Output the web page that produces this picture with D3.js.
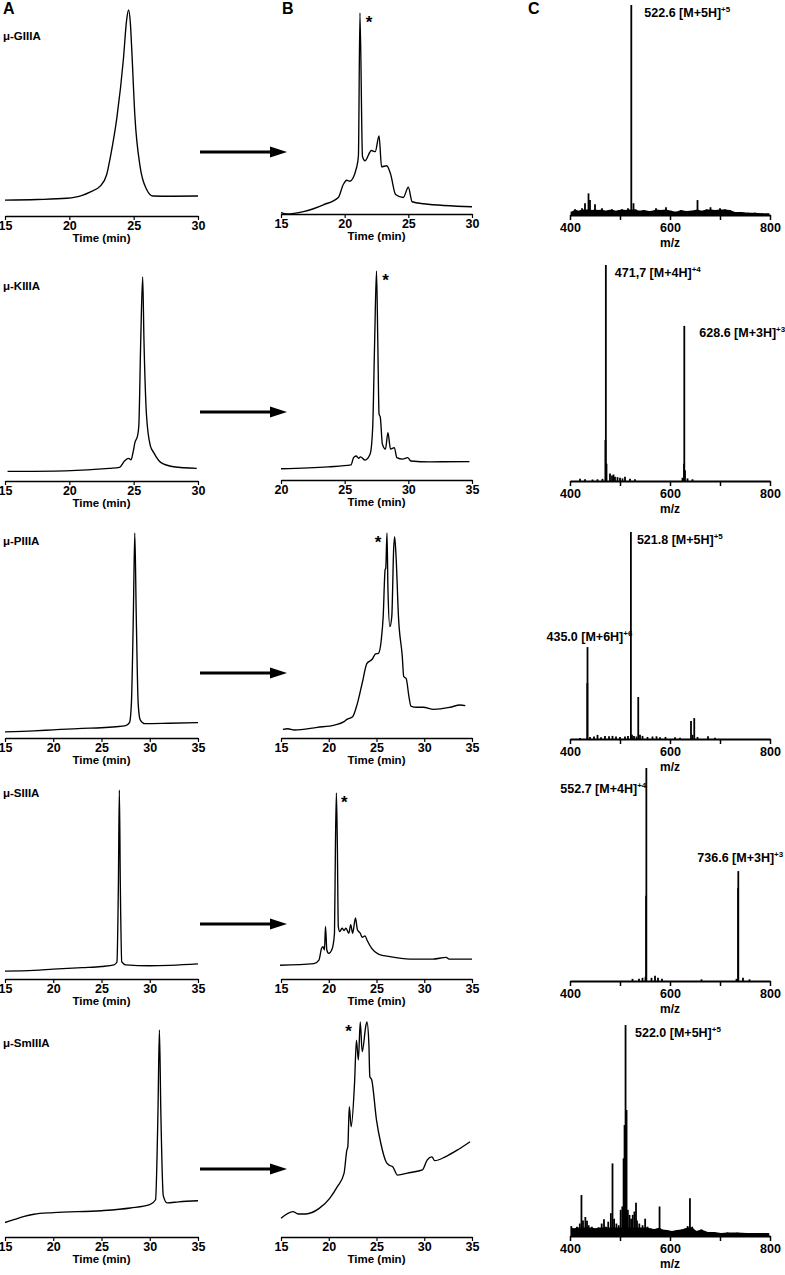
<!DOCTYPE html>
<html lang="en">
<head>
<meta charset="UTF-8">
<title>Oxidative folding of mu-conotoxins</title>
<script src="https://cdn.jsdelivr.net/npm/d3@7"></script>
<style>
  body { margin: 0; background: #fff; }
  svg { display: block; font-family: Arial, "Liberation Sans", sans-serif; }
  .axis text { font-weight: bold; font-size: 12.5px; fill: #000; }
  .axis path, .axis line { stroke: #000; }
</style>
</head>
<body>
<script>
// peptides, one per row
var peptides = ["μ-GIIIA", "μ-KIIIA", "μ-PIIIA", "μ-SIIIA", "μ-SmIIIA"];

// HPLC time windows and ticks (min)
var timeDomainA = [[15, 30], [15, 30], [15, 35], [15, 35], [15, 35]];
var timeDomainB = [[15, 30], [20, 35], [15, 35], [15, 35], [15, 35]];
var timeTicksA = [[15, 20, 25, 30], [15, 20, 25, 30], [15, 20, 25, 30, 35], [15, 20, 25, 30, 35], [15, 20, 25, 30, 35]];
var timeTicksB = [[15, 20, 25, 30], [20, 25, 30, 35], [15, 20, 25, 30, 35], [15, 20, 25, 30, 35], [15, 20, 25, 30, 35]];

// m/z axis
var mzDomain = [400, 800];
var mzTicks = [400, 500, 600, 700, 800];
var mzTickLabels = [400, 600, 800];

// A: purified peptides, [time, relative absorbance %]
var traceA_GIIIA = [[15.0, 7.7], [17.5, 8.0], [19.8, 8.6], [21.0, 10.0], [21.6, 11.6], [22.4, 14.5], [22.9, 20], [23.2, 29], [23.7, 48], [24.2, 76], [24.45, 95], [24.6, 100], [24.75, 93], [24.85, 81], [25.1, 48], [25.5, 24], [26.0, 13], [26.5, 9.7], [28.0, 9.6], [30.0, 9.7]];
var traceA_KIIIA = [[15.2, 4.7], [19.7, 5.0], [23.1, 6.2], [23.9, 6.7], [24.3, 9.9], [24.6, 11.1], [24.8, 10.4], [24.95, 14], [25.1, 18.9], [25.3, 22.1], [25.4, 27], [25.55, 69], [25.7, 100], [25.8, 69], [26.0, 32], [26.3, 17.2], [26.55, 14], [27.1, 9.1], [28.1, 7], [29.9, 6.2]];
var traceA_PIIIA = [[15, 3], [18, 3.5], [20, 4], [23, 4.7], [25, 5], [26.5, 5.5], [27.5, 6], [27.9, 7.5], [28.1, 17], [28.3, 60], [28.45, 100], [28.6, 60], [28.8, 17], [29.0, 9], [29.5, 7], [32, 7.2], [35, 7.5]];
var traceA_SIIIA = [[15, 4.2], [18, 4.6], [20, 5.2], [23, 6], [25, 6.6], [26.3, 7.5], [26.6, 9], [26.75, 50], [26.85, 100], [26.95, 50], [27.1, 9], [27.5, 7.5], [30, 7], [35, 8]];
var traceA_SmIIIA = [[15, 7], [16, 8.5], [17, 10], [18, 11], [20, 11.8], [25, 12.7], [28, 14], [30, 15.6], [30.6, 18], [30.85, 60], [31.0, 100], [31.15, 60], [31.4, 20], [31.8, 16.5], [33, 17], [35, 17.5]];

// B: folding reaction mixtures, [time, relative absorbance %]
var traceB_GIIIA = [[15.0, 0.7], [15.45, 0], [16.76, 1.2], [18.33, 4.6], [19.5, 8.2], [19.9, 14.8], [20.17, 16.8], [20.4, 16.3], [20.95, 23.5], [21.08, 29], [21.2, 100], [21.4, 28.6], [21.6, 26.5], [22.1, 31.6], [22.4, 31], [22.7, 38.8], [22.9, 23.5], [23.3, 24], [23.6, 20], [24.0, 9.7], [24.6, 8.2], [25.0, 13.3], [25.3, 6.1], [26.2, 5.1], [30.0, 3.6]];
var traceB_KIIIA = [[20.0, 5.4], [23.7, 6.3], [25.5, 7.2], [25.7, 10.7], [25.9, 11.5], [26.1, 10.4], [26.25, 11.1], [26.6, 9.5], [27.0, 12.4], [27.2, 25], [27.35, 65], [27.5, 100], [27.6, 67], [27.7, 31.6], [27.8, 30], [27.96, 17.2], [28.2, 14.8], [28.4, 22.7], [28.6, 14.8], [28.9, 15.5], [29.1, 10.7], [29.55, 10], [29.95, 10.7], [30.2, 9.1], [31.7, 8.7], [34.8, 8.8]];
var traceB_PIIIA = [[15.2, 4.2], [15.7, 4.5], [16.4, 3.9], [18.8, 5.2], [20.6, 6.3], [21.6, 8], [21.9, 9.1], [22.5, 10.4], [23.0, 16.9], [23.5, 26.7], [24.0, 36.4], [24.55, 38.4], [24.9, 41], [25.2, 41.3], [25.5, 47.8], [25.7, 59.2], [25.9, 82], [25.97, 82.9], [26.1, 100], [26.2, 72.2], [26.4, 54.3], [26.6, 59.2], [26.8, 92.5], [26.9, 98.2], [27.05, 88.4], [27.3, 59.2], [27.7, 39.7], [27.85, 29.9], [28.1, 29.1], [28.4, 20.1], [28.6, 15.6], [29.2, 15], [29.9, 15], [31.0, 14], [32.7, 15], [33.75, 16.1], [34.3, 15.8]];
var traceB_SIIIA = [[14.9, 7.4], [18.45, 8.3], [18.97, 10.2], [19.25, 16.5], [19.4, 17.4], [19.55, 15.6], [19.66, 28.3], [19.8, 15.6], [20.0, 13.8], [20.35, 16.1], [20.6, 24.6], [20.7, 71.7], [20.8, 100], [20.9, 71.7], [21.0, 28.3], [21.15, 25.5], [21.4, 27.3], [21.6, 26.1], [21.8, 27.3], [22.1, 24.6], [22.3, 29.2], [22.5, 24.6], [22.8, 32.8], [23.0, 26.5], [23.3, 24.6], [23.5, 22.4], [23.8, 23.2], [24.0, 21], [24.5, 16.5], [25.2, 13.4], [26.4, 12], [28.5, 10.7], [30.9, 10.7], [32.3, 11.6], [32.6, 10.7], [35.0, 10.7]];
var traceB_SmIIIA = [[15.0, 8.7], [16.25, 11.8], [16.8, 10.7], [17.6, 10.7], [19.0, 13.3], [20.1, 18], [20.9, 23.4], [21.6, 29.6], [21.9, 40.5], [22.0, 42], [22.15, 60.6], [22.35, 51.3], [22.7, 71.5], [22.9, 91.6], [23.1, 82.3], [23.3, 100], [23.5, 86.2], [23.9, 98.6], [24.0, 100], [24.2, 90], [24.3, 74.6], [24.5, 73], [25.0, 54.4], [25.45, 43.6], [26.0, 35], [26.3, 33.5], [26.7, 32.7], [27.2, 28.8], [28.4, 29.9], [29.8, 31.2], [30.3, 35.8], [30.8, 37.3], [31.1, 35.5], [32.2, 37.3], [33.6, 40.8], [34.8, 44.3]];

// main folded product marked with *
var starTimeB = [21.2, 27.5, 26.1, 20.8, 22.9];

// C: ESI-MS of the main product, [m/z, relative intensity %]
var spec_GIIIA = [[403, 1.6], [410, 2.7], [417, 2], [424, 3.2], [430, 5.6], [437, 10.3], [440, 7.1], [444, 2.4], [450, 5.1], [457, 2.4], [464, 3.2], [471, 2], [477, 2.4], [484, 2.7], [491, 2], [498, 2.4], [504, 2.7], [511, 2.4], [516, 3.2], [522.6, 100], [527, 5.6], [531, 2.7], [538, 2], [548, 2.4], [558, 1.9], [565, 2], [572, 3.2], [582, 2.4], [592, 3.7], [602, 2], [612, 1.6], [622, 2.4], [632, 1.9], [642, 2], [655, 7.1], [663, 2], [673, 2.7], [681, 3.7], [690, 2.4], [700, 3.2], [710, 2.7], [720, 2.4], [730, 1.4], [743, 1.4], [757, 1.1], [770, 1.1], [784, 0.8], [797, 0.8]];
var spec_KIIIA = [[420, 1], [430, 0.8], [445, 0.7], [455, 0.8], [465, 1], [470.8, 19], [471.7, 100], [473, 8], [480, 3.5], [484, 2.5], [487, 3], [490, 2], [495, 1.8], [500, 1.5], [505, 1.2], [510, 2], [520, 1], [530, 0.8], [625, 1.5], [628, 8], [628.6, 71.8], [630, 5], [635, 1.2], [645, 0.8]];
var spec_PIIIA = [[420, 0.5], [434.6, 27], [435.0, 44.4], [440, 1], [448, 1.2], [455, 2], [462, 0.8], [470, 1.5], [478, 1.3], [485, 1.5], [492, 1.2], [500, 1], [510, 1.2], [516, 1.5], [521.8, 100], [524, 2], [528, 1.5], [533, 1.2], [536.5, 20.3], [540, 2], [545, 1.5], [555, 1], [565, 1.2], [573, 1.3], [580, 0.8], [591, 1], [610, 0.8], [620, 0.6], [642, 8.7], [645, 2], [648.5, 10.1], [655, 1], [676, 1.3], [690, 0.6]];
var spec_SIIIA = [[525, 1], [538, 1], [545, 1.5], [551, 2], [552.2, 40], [552.7, 100], [563, 1.5], [570, 2.5], [576, 1.5], [584, 1], [663, 0.8], [733, 1], [736.2, 43.7], [736.6, 51.6], [746, 1.5], [759, 0.8]];
var spec_SmIIIA = [[402.6, 4.7], [407.8, 3.6], [414, 4.4], [419.6, 5.9], [422.9, 19.4], [426, 7.4], [430.7, 9], [434, 7.2], [437.3, 5.1], [443.8, 4.4], [450.3, 3.6], [456.9, 4], [463.4, 5.9], [468, 7.9], [471.9, 4.4], [476.5, 6.8], [481.7, 10.8], [485, 34.4], [488.2, 8.2], [492.8, 5.9], [497.4, 5.1], [501.3, 12.4], [504.6, 14], [507.2, 36.8], [509.1, 52.6], [511.1, 100], [513.1, 59.7], [515.7, 12.4], [519, 10], [522.2, 8.2], [525.5, 10], [528.8, 11.6], [532, 15.8], [534, 7.4], [538.6, 5.9], [545.1, 5.1], [550.3, 8.2], [555, 4.4], [561.4, 3.6], [568, 3.3], [574.5, 3.6], [579.1, 14], [584.3, 3.1], [594.1, 2.8], [603.9, 2.4], [613.7, 2.8], [623.5, 3.1], [630.1, 3.6], [635.3, 4.7], [639.9, 17.9], [644.4, 4.4], [652.9, 2.4], [662.7, 3.1], [675.8, 1.9], [688.9, 1.9], [702, 1.4], [715, 1.7], [734.6, 1.6], [754.2, 1.4], [773.8, 1.4], [796.7, 1.4]];

// ion annotations
var specNotes = [
  [{ mz: 522.6, label: "522.6 [M+5H]", charge: "+5" }],
  [{ mz: 471.7, label: "471,7 [M+4H]", charge: "+4" }, { mz: 628.6, label: "628.6 [M+3H]", charge: "+3" }],
  [{ mz: 521.8, label: "521.8 [M+5H]", charge: "+5" }, { mz: 435.0, label: "435.0 [M+6H]", charge: "+6" }],
  [{ mz: 552.7, label: "552.7 [M+4H]", charge: "+4" }, { mz: 736.6, label: "736.6 [M+3H]", charge: "+3" }],
  [{ mz: 522.0, label: "522.0 [M+5H]", charge: "+5" }]
];

var tracesA = [traceA_GIIIA, traceA_KIIIA, traceA_PIIIA, traceA_SIIIA, traceA_SmIIIA];
var tracesB = [traceB_GIIIA, traceB_KIIIA, traceB_PIIIA, traceB_SIIIA, traceB_SmIIIA];
var spectra = [spec_GIIIA, spec_KIIIA, spec_PIIIA, spec_SIIIA, spec_SmIIIA];

// ---- layout ----
var colX = { A: [5, 198], B: [281, 472], C: [570, 770] };
// [axis y, y of 100 %] for each column, per row
var rows = [
  { A: [216, 10], B: [214, 13], C: [215, 5], name: 40, arrow: 152 },
  { A: [481, 277], B: [480, 271], C: [481, 265], name: 290, arrow: 412 },
  { A: [738, 533], B: [738, 533], C: [739, 532], name: 545, arrow: 673 },
  { A: [979, 790], B: [979, 793], C: [981, 768], name: 797, arrow: 924 },
  { A: [1237, 1030], B: [1237, 1022], C: [1236, 1025], name: 1047, arrow: 1169 }
];
var starDx = [9, 9, -9, 8, -8];
var noteLayout = [
  [{ dx: 13, y: 17 }],
  [{ dx: 9, y: 277 }, { dx: 15, y: 337 }],
  [{ dx: 6, y: 544 }, { dx: -41, y: 641 }],
  [{ dx: -86, y: 793 }, { dx: -41, y: 862 }],
  [{ dx: 4, y: 1037 }]
];
var floorCap = [2.6, 0, 0, 0, 4];

var svg = d3.select("body").append("svg")
    .attr("width", 785)
    .attr("height", 1275);

svg.append("rect").attr("width", 785).attr("height", 1275).attr("fill", "#fff");

// panel letters
[["A", 3], ["B", 282], ["C", 528]].forEach(function (p) {
    svg.append("text").attr("x", p[1]).attr("y", 14)
        .attr("font-size", 16).attr("font-weight", "bold").text(p[0]);
});

function chromPanel(data, domain, ticks, xr, yr) {
    var g = svg.append("g");
    var x = d3.scaleLinear().domain(domain).range(xr);
    var y = d3.scaleLinear().domain([0, 100]).range(yr);
    g.append("path").datum(data)
        .attr("d", d3.line().x(function (d) { return x(d[0]); }).y(function (d) { return y(d[1]); }).curve(d3.curveMonotoneX))
        .attr("fill", "none").attr("stroke", "#000").attr("stroke-width", 1.35);
    var ax = g.append("g").attr("class", "axis")
        .attr("transform", "translate(0," + yr[0] + ")")
        .call(d3.axisBottom(x).tickValues(ticks).tickSize(4).tickSizeOuter(0).tickPadding(1));
    ax.select(".domain").attr("stroke-width", 1.3);
    ax.selectAll(".tick line").attr("stroke-width", 1.2);
    g.append("text").attr("x", (xr[0] + xr[1]) / 2).attr("y", yr[0] + 26)
        .attr("text-anchor", "middle").attr("font-size", 11.5).attr("font-weight", "bold")
        .text("Time (min)");
    return x;
}

function specPanel(data, xr, yr, cap) {
    var g = svg.append("g");
    var x = d3.scaleLinear().domain(mzDomain).range(xr);
    var y = d3.scaleLinear().domain([0, 100]).range(yr);
    if (cap > 0) {
        g.append("path").datum(data)
            .attr("d", d3.area().x(function (d) { return x(d[0]); }).y0(yr[0])
                .y1(function (d) { return y(Math.min(d[1], cap)); }))
            .attr("fill", "#000");
    }
    g.selectAll("line.stick").data(data).join("line")
        .attr("class", "stick")
        .attr("x1", function (d) { return x(d[0]); })
        .attr("x2", function (d) { return x(d[0]); })
        .attr("y1", yr[0])
        .attr("y2", function (d) { return y(d[1]); })
        .attr("stroke", "#000").attr("stroke-width", 1.8);
    var ax = g.append("g").attr("class", "axis")
        .attr("transform", "translate(0," + yr[0] + ")")
        .call(d3.axisBottom(x).tickValues(mzTicks).tickSize(5).tickSizeOuter(0).tickPadding(3)
            .tickFormat(function (d) { return mzTickLabels.indexOf(d) >= 0 ? d : ""; }));
    ax.select(".domain").attr("stroke-width", 1.8);
    ax.selectAll(".tick line").attr("stroke-width", 1.5);
    g.append("text").attr("x", (xr[0] + xr[1]) / 2).attr("y", yr[0] + 32)
        .attr("text-anchor", "middle").attr("font-size", 12).attr("font-weight", "bold")
        .text("m/z");
    return x;
}

rows.forEach(function (r, i) {
    // peptide name
    svg.append("text").attr("x", 3).attr("y", r.name)
        .attr("font-size", 11.5).attr("font-weight", "bold").text(peptides[i]);

    chromPanel(tracesA[i], timeDomainA[i], timeTicksA[i], colX.A, r.A);
    var xb = chromPanel(tracesB[i], timeDomainB[i], timeTicksB[i], colX.B, r.B);

    // asterisk on the main folding product
    svg.append("text").attr("x", xb(starTimeB[i]) + starDx[i]).attr("y", r.B[1] + 15)
        .attr("text-anchor", "middle").attr("font-size", 17).attr("font-weight", "bold").text("*");

    // arrow A -> B
    svg.append("line").attr("x1", 200).attr("x2", 272).attr("y1", r.arrow).attr("y2", r.arrow)
        .attr("stroke", "#000").attr("stroke-width", 3);
    svg.append("path")
        .attr("d", "M270," + (r.arrow - 5.5) + "L287," + r.arrow + "L270," + (r.arrow + 5.5) + "Z")
        .attr("fill", "#000");

    var xc = specPanel(spectra[i], colX.C, r.C, floorCap[i]);

    specNotes[i].forEach(function (n, j) {
        var t = svg.append("text").attr("x", xc(n.mz) + noteLayout[i][j].dx).attr("y", noteLayout[i][j].y)
            .attr("font-size", 12.5).attr("font-weight", "bold");
        t.append("tspan").text(n.label);
        t.append("tspan").attr("dy", -5).attr("font-size", 8).text(n.charge);
    });
});
</script>
</body>
</html>
